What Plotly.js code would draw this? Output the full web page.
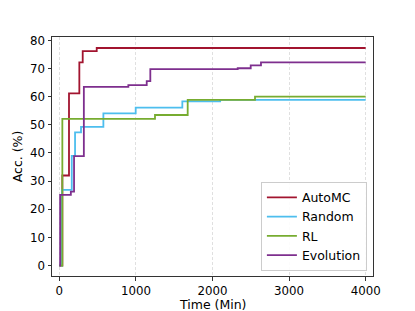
<!DOCTYPE html>
<html>
<head>
<meta charset="utf-8">
<script src="https://cdn.plot.ly/plotly-3.0.1.min.js"></script>
<style>html,body{margin:0;padding:0;background:#fff;}#chart{width:415px;height:311px;}</style>
</head>
<body>
<div id="chart"></div>
<script>
// Step-change points (time in minutes, accuracy in %)
const automcTime = [0, 39, 126, 261, 305, 488, 4000];
const automcAcc  = [0, 32.0, 61.2, 72.2, 76.2, 77.3, 77.3];

const randomTime = [0, 35, 162, 205, 283, 575, 997, 1606, 2100, 4000];
const randomAcc  = [0, 26.9, 39.0, 47.3, 49.3, 54.1, 56.1, 58.3, 58.9, 58.9];

const rlTime = [0, 39, 1249, 1676, 2555, 4000];
const rlAcc  = [0, 52.1, 53.5, 58.9, 60.0, 60.0];

const evoTime = [0, 10, 150, 192, 320, 901, 1141, 1188, 2329, 2499, 2633, 4000];
const evoAcc  = [0, 25.1, 26.3, 38.9, 63.5, 64.1, 65.5, 69.8, 70.1, 71.1, 72.2, 72.2];

const seriesNames = ["AutoMC", "Random", "RL", "Evolution"];
const seriesColors = ["#A2142F", "#4DBEEE", "#77AC30", "#7E2F8E"];
const xTicks = [0, 1000, 2000, 3000, 4000];
const yTicks = [0, 10, 20, 30, 40, 50, 60, 70, 80];
const xTitle = "Time (Min)";
const yTitle = "Acc. (%)";

const xs = [automcTime, randomTime, rlTime, evoTime];
const ys = [automcAcc, randomAcc, rlAcc, evoAcc];

const traces = seriesNames.map((n, i) => ({
  x: xs[i], y: ys[i], name: n, type: "scatter", mode: "lines",
  line: {color: seriesColors[i], width: 1.8, shape: "hv"}
}));

const fam = "DejaVu Sans, sans-serif";

const layout = {
  width: 415, height: 311,
  margin: {l: 52, r: 42, t: 37, b: 35},
  paper_bgcolor: "#fff", plot_bgcolor: "#fff",
  font: {family: fam, size: 12, color: "#000"},
  showlegend: true,
  legend: {
    x: 0.981, xanchor: "right", y: 0.022, yanchor: "bottom",
    bgcolor: "rgba(255,255,255,0.9)", bordercolor: "#cccccc", borderwidth: 1,
    font: {family: fam, size: 12.5, color: "#000"}
  },
  xaxis: {
    range: [-96, 4096], tickvals: xTicks, ticktext: xTicks.map(String),
    showgrid: true, gridcolor: "#e0e0e0", griddash: "3px,2px", gridwidth: 1,
    zeroline: false, showline: true, mirror: true, linecolor: "#333", linewidth: 1,
    ticks: "outside", ticklen: 3.5, tickcolor: "#333",
    tickfont: {family: fam, size: 11.8, color: "#000"},
    automargin: false
  },
  yaxis: {
    range: [-3.7, 81.2], tickvals: yTicks, ticktext: yTicks.map(String),
    showgrid: false, zeroline: false, showline: true, mirror: true, linecolor: "#333", linewidth: 1,
    ticks: "outside", ticklen: 3.5, tickcolor: "#333",
    tickfont: {family: fam, size: 11.8, color: "#000"},
    title: {text: yTitle, standoff: 4, font: {family: fam, size: 12.5, color: "#000"}},
    automargin: false
  },
  annotations: [{
    text: xTitle, xref: "paper", yref: "paper", x: 0.5, y: -0.12,
    xanchor: "center", yanchor: "middle", showarrow: false, borderpad: 0,
    font: {family: fam, size: 12.5, color: "#000"}
  }]
};

Plotly.newPlot("chart", traces, layout, {displayModeBar: false, staticPlot: true});
</script>
</body>
</html>
